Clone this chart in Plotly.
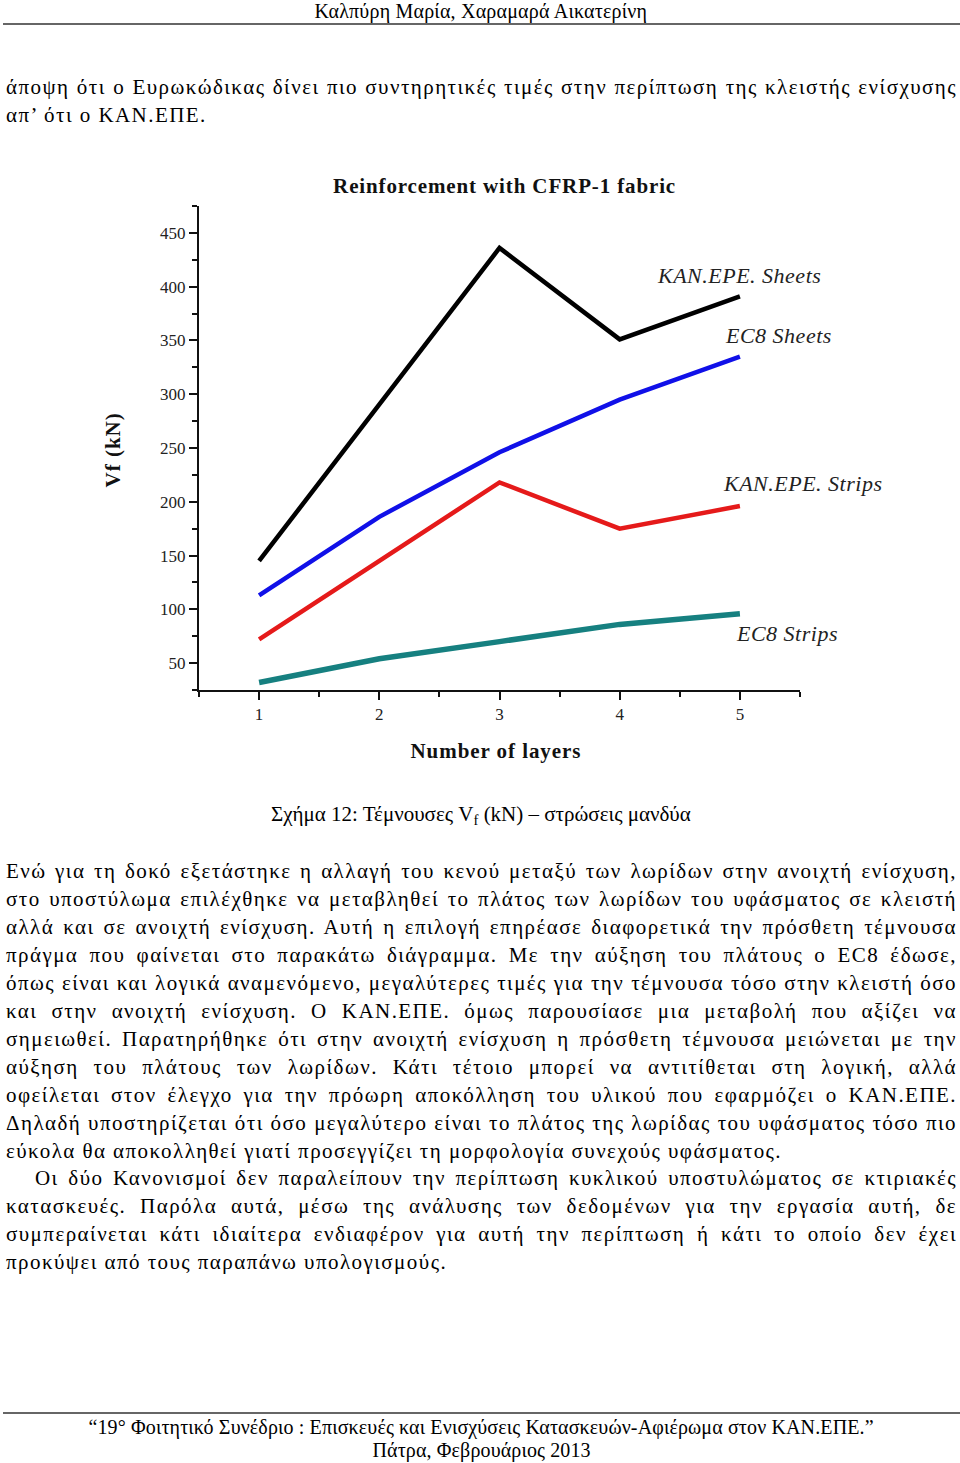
import json
import plotly.graph_objects as go

# ---------------- data ----------------
layers = [1, 2, 3, 4, 5]
kanepe_sheets = [145, 290, 436, 351, 391]
ec8_sheets = [113, 186, 246, 295, 335]
kanepe_strips = [72, 145, 218, 175, 196]
ec8_strips = [32, 54, 70, 86, 96]

series_names = ["KAN.EPE. Sheets", "EC8 Sheets", "KAN.EPE. Strips", "EC8 Strips"]
series_values = [kanepe_sheets, ec8_sheets, kanepe_strips, ec8_strips]

x_ticks = [1, 2, 3, 4, 5]
y_ticks = [50, 100, 150, 200, 250, 300, 350, 400, 450]

chart_title = "Reinforcement with CFRP-1 fabric"
x_title = "Number of layers"
y_title = "Vf (kN)"

header_text = "Καλπύρη Μαρία, Χαραμαρά Αικατερίνη"
intro_lines = [
    "άποψη ότι ο Ευρωκώδικας δίνει πιο συντηρητικές τιμές στην περίπτωση της κλειστής ενίσχυσης",
    "απ’ ότι ο ΚΑΝ.ΕΠΕ.",
]
caption_text = "Σχήμα 12: Τέμνουσες V<sub>f</sub> (kN) – στρώσεις μανδύα"
caption_plain = "Σχήμα 12: Τέμνουσες Vf (kN) – στρώσεις μανδύα"
body_lines = [
    "Ενώ για τη δοκό εξετάστηκε η αλλαγή του κενού μεταξύ των λωρίδων στην ανοιχτή ενίσχυση,",
    "στο υποστύλωμα επιλέχθηκε να μεταβληθεί το πλάτος των λωρίδων του υφάσματος σε κλειστή",
    "αλλά και σε ανοιχτή ενίσχυση. Αυτή η επιλογή επηρέασε διαφορετικά την πρόσθετη τέμνουσα",
    "πράγμα που φαίνεται στο παρακάτω διάγραμμα. Με την αύξηση του πλάτους ο EC8 έδωσε,",
    "όπως είναι και λογικά αναμενόμενο, μεγαλύτερες τιμές για την τέμνουσα τόσο στην κλειστή όσο",
    "και στην ανοιχτή ενίσχυση. Ο ΚΑΝ.ΕΠΕ. όμως παρουσίασε μια μεταβολή που αξίζει να",
    "σημειωθεί. Παρατηρήθηκε ότι στην ανοιχτή ενίσχυση η πρόσθετη τέμνουσα μειώνεται με την",
    "αύξηση του πλάτους των λωρίδων. Κάτι τέτοιο μπορεί να αντιτίθεται στη λογική, αλλά",
    "οφείλεται στον έλεγχο για την πρόωρη αποκόλληση του υλικού που εφαρμόζει ο ΚΑΝ.ΕΠΕ.",
    "Δηλαδή υποστηρίζεται ότι όσο μεγαλύτερο είναι το πλάτος της λωρίδας του υφάσματος τόσο πιο",
    "εύκολα θα αποκολληθεί γιατί προσεγγίζει τη μορφολογία συνεχούς υφάσματος.",
    "Οι δύο Κανονισμοί δεν παραλείπουν την περίπτωση κυκλικού υποστυλώματος σε κτιριακές",
    "κατασκευές. Παρόλα αυτά, μέσω της ανάλυσης των δεδομένων για την εργασία αυτή, δε",
    "συμπεραίνεται κάτι ιδιαίτερα ενδιαφέρον για αυτή την περίπτωση ή κάτι το οποίο δεν έχει",
    "προκύψει από τους παραπάνω υπολογισμούς.",
]
footer_lines = [
    "“19° Φοιτητικό Συνέδριο : Επισκευές και Ενισχύσεις Κατασκευών-Αφιέρωμα στον ΚΑΝ.ΕΠΕ.”",
    "Πάτρα, Φεβρουάριος 2013",
]

# ---------------- styling / layout ----------------
W, H = 960, 1463
colors = ["#000000", "#1010E8", "#E51A1A", "#168080"]
widths = [4.5, 4.5, 4.5, 5.5]
label_pos = [(657, 276), (725, 336), (723, 483), (736, 634)]  # left x, center y (px)
SERIF = "Liberation Serif, Times New Roman, serif"
RIGHT_MARGIN = 957
BODY_LS = 1.45
unjustified = {10, 14}


def px(x):
    return x / W


def py(y):
    return 1 - y / H


fig = go.Figure()
for name, vals, c, w in zip(series_names, series_values, colors, widths):
    fig.add_trace(go.Scatter(x=layers, y=vals, mode="lines", name=name,
                             line=dict(color=c, width=w), showlegend=False))

annotations = []
spacing = {}  # text content -> [letter spacing, right edge to justify to or null]

for name, (lx, ly) in zip(series_names, label_pos):
    annotations.append(dict(x=px(lx - 2), y=py(ly), xref="paper", yref="paper",
                            text="<i>" + name + "</i>", showarrow=False, align="left",
                            xanchor="left", yanchor="middle",
                            font=dict(family=SERIF, size=22, color="#222")))
    spacing[name] = [0.5, None]

annotations.append(dict(x=px(504), y=py(186), xref="paper", yref="paper",
                        text="<b>" + chart_title + "</b>", showarrow=False,
                        xanchor="center", yanchor="middle",
                        font=dict(family=SERIF, size=21, color="#111")))
spacing[chart_title] = [0.87, None]
annotations.append(dict(x=px(496), y=py(751), xref="paper", yref="paper",
                        text="<b>" + x_title + "</b>", showarrow=False,
                        xanchor="center", yanchor="middle",
                        font=dict(family=SERIF, size=21, color="#111")))
spacing[x_title] = [0.94, None]
annotations.append(dict(x=px(113), y=py(450), xref="paper", yref="paper",
                        text="<b>" + y_title + "</b>", showarrow=False, textangle=-90,
                        xanchor="center", yanchor="middle",
                        font=dict(family=SERIF, size=21, color="#111")))
spacing[y_title] = [1.0, None]

# page text
annotations.append(dict(x=px(481), y=py(12), xref="paper", yref="paper",
                        text=header_text, showarrow=False, xanchor="center", yanchor="middle",
                        font=dict(family=SERIF, size=20, color="#000")))
spacing[header_text] = [0.2, None]
for i, t in enumerate(intro_lines):
    annotations.append(dict(x=px(4), y=py(87 + 28 * i), xref="paper", yref="paper",
                            text=t, showarrow=False, xanchor="left", yanchor="middle",
                            align="left",
                            font=dict(family=SERIF, size=21, color="#000")))
    spacing[t] = [BODY_LS, RIGHT_MARGIN if i == 0 else None]
annotations.append(dict(x=px(481), y=py(815), xref="paper", yref="paper",
                        text=caption_text, showarrow=False, xanchor="center", yanchor="middle",
                        font=dict(family=SERIF, size=21, color="#000")))
spacing[caption_plain] = [0.65, None]
for i, t in enumerate(body_lines):
    lx = 33 if i == 11 else 4
    annotations.append(dict(x=px(lx), y=py(871 + 27.95 * i), xref="paper", yref="paper",
                            text=t, showarrow=False, xanchor="left", yanchor="middle",
                            align="left",
                            font=dict(family=SERIF, size=21, color="#000")))
    spacing[t] = [BODY_LS, None if i in unjustified else RIGHT_MARGIN]
for i, t in enumerate(footer_lines):
    annotations.append(dict(x=px(481), y=py(1427 + 23 * i), xref="paper", yref="paper",
                            text=t, showarrow=False, xanchor="center", yanchor="middle",
                            font=dict(family=SERIF, size=20, color="#000")))
    spacing[t] = [0.13, None]

shapes = [
    dict(type="line", xref="paper", yref="paper", x0=px(3), x1=px(960), y0=py(24), y1=py(24),
         line=dict(color="#333", width=1.5)),
    dict(type="line", xref="paper", yref="paper", x0=px(3), x1=px(960), y0=py(1413), y1=py(1413),
         line=dict(color="#333", width=1.5)),
]

fig.update_layout(
    width=W, height=H, autosize=False,
    margin=dict(l=0, r=0, t=0, b=0),
    paper_bgcolor="white", plot_bgcolor="white",
    annotations=annotations, shapes=shapes,
    xaxis=dict(domain=[px(199), px(800)], range=[0.5, 5.5], tickvals=x_ticks,
               showgrid=False, zeroline=False, showline=True, linecolor="#111", linewidth=2,
               ticks="outside", ticklen=8, tickwidth=2, tickcolor="#111",
               tickfont=dict(family=SERIF, size=17, color="#222"),
               minor=dict(tickvals=[0.5, 1.5, 2.5, 3.5, 4.5, 5.5], ticks="outside",
                          ticklen=5, tickwidth=2, tickcolor="#111")),
    yaxis=dict(domain=[py(690), py(206)], range=[25, 475], tickvals=y_ticks,
               showgrid=False, zeroline=False, showline=True, linecolor="#111", linewidth=2,
               ticks="outside", ticklen=8, tickwidth=2, tickcolor="#111",
               tickfont=dict(family=SERIF, size=17, color="#222"),
               minor=dict(tickvals=[25, 75, 125, 175, 225, 275, 325, 375, 425, 475],
                          ticks="outside", ticklen=5, tickwidth=2, tickcolor="#111")),
)

post = """
document.body.style.margin='0';
(function(){
  var gd = document.getElementById('{plot_id}');
  var S = """ + json.dumps(spacing, ensure_ascii=False) + """;
  gd.querySelectorAll('text.annotation-text').forEach(function(t){
    var k = t.textContent;
    if(!(k in S)) return;
    t.style.letterSpacing = S[k][0] + 'px';
    var right = S[k][1];
    if(right){
      var r = t.getBoundingClientRect();
      var n = (k.match(/ /g) || []).length;
      var extra = right - r.right;
      if(extra > 0 && n > 0) t.style.wordSpacing = (extra / n) + 'px';
    }
  });
})();
"""

fig.write_html("out.html", post_script=post, config={"displayModeBar": False})
